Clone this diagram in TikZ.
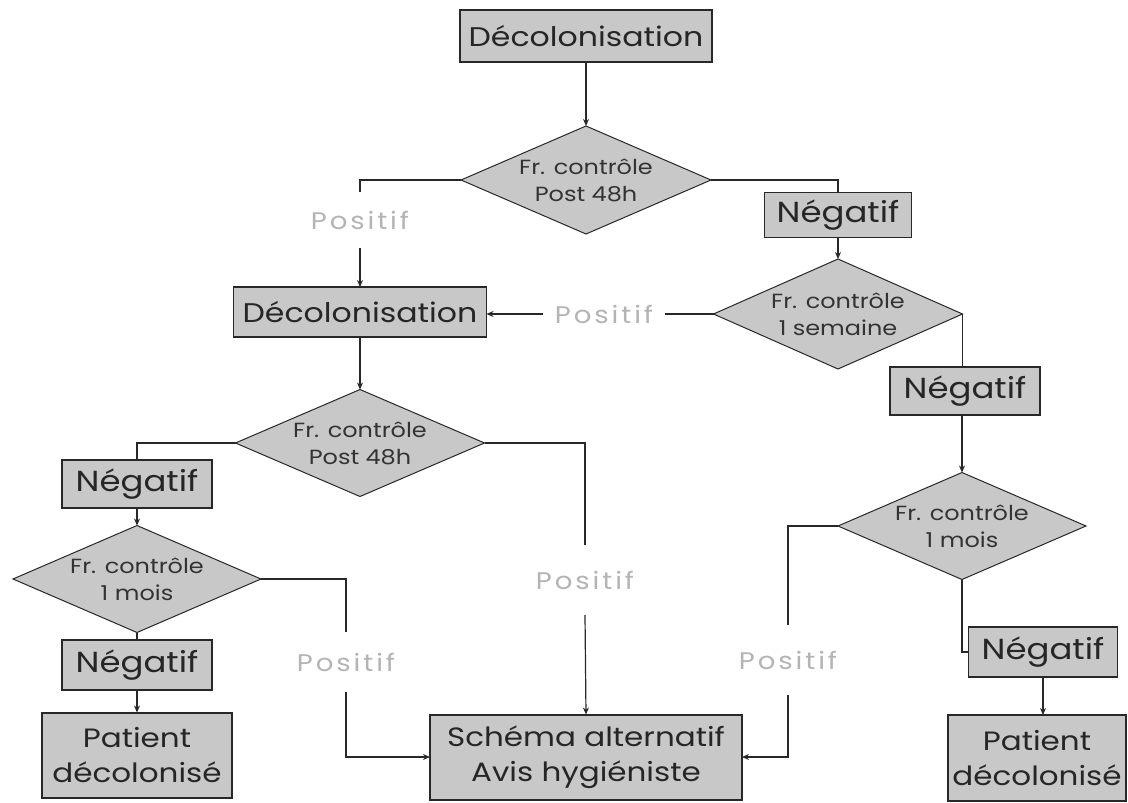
\documentclass[tikz,border=0pt]{standalone}
\usepackage{fontspec}
\setmainfont{Poppins}[FakeStretch=1.17]
\newfontfamily\posfont{Poppins}[FakeStretch=1.15, LetterSpace=12]
\usetikzlibrary{shapes.geometric,arrows.meta}
\definecolor{boxgray}{RGB}{200,200,200}
\definecolor{linegray}{RGB}{40,40,40}
\definecolor{posgray}{RGB}{180,180,180}
\tikzset{
  every node/.style={inner sep=0pt, outer sep=0pt},
  box/.style={draw=linegray, line width=1.3pt, fill=boxgray, align=center, text=black!85, font=\fontsize{27}{32}\selectfont},
  negbox/.style={box, font=\fontsize{29}{32}\selectfont},
  bigbox/.style={box, line width=2pt, font=\fontsize{26.5}{35}\selectfont},
  diashape/.style={diamond, draw=linegray, line width=1pt, fill=boxgray, minimum width=#1pt, minimum height=108pt},
  dtext/.style={align=center, text=black!80, font=\fontsize{20.5}{27}\selectfont},
  poslabel/.style={text=posgray, font=\posfont\fontsize{24}{28}\selectfont},
  conn/.style={draw=linegray, line width=1.2pt},
  arr/.style={conn, -{Stealth[length=7pt,width=6pt]}}
}
\begin{document}
\begin{tikzpicture}[x=1pt,y=-1pt]
\useasboundingbox[fill=white] (0,0) rectangle (1128,803);
% boxes
\node[box, minimum width=252pt, minimum height=52pt] (t1) at (586,36) {Décolonisation};
\node[box, minimum width=253pt, minimum height=50pt] (dec2) at (360,312) {Décolonisation};
\node[negbox, minimum width=147pt, minimum height=45pt] (n1) at (838,215) {Négatif};
\node[negbox, minimum width=150pt, minimum height=48pt] (n2) at (965,391) {Négatif};
\node[negbox, minimum width=150pt, minimum height=48pt] (n3) at (137,484) {Négatif};
\node[negbox, minimum width=150pt, minimum height=50pt] (n5) at (137,665) {Négatif};
\node[negbox, minimum width=149pt, minimum height=50pt] (n4) at (1043,652) {Négatif};
\node[bigbox, minimum width=190pt, minimum height=85pt] (p1) at (137,755) {Patient\\décolonisé};
\node[bigbox, minimum width=178pt, minimum height=86pt] (p2) at (1037,758) {Patient\\décolonisé};
\node[bigbox, minimum width=312pt, minimum height=85pt] (sch) at (586,757) {Schéma alternatif\\Avis hygiéniste};
% diamonds
\node[diashape=250] (d1) at (586,180) {};
\node[dtext] at (d1) {Fr. contrôle\\Post 48h};
\node[diashape=249, minimum height=110pt] (d2) at (838,314) {};
\node[dtext] at (d2) {Fr. contrôle\\1 semaine};
\node[diashape=249, minimum height=107pt] (d3) at (360,443) {};
\node[dtext] at (d3) {Fr. contrôle\\Post 48h};
\node[diashape=248, minimum height=107pt] (d4) at (962,526) {};
\node[dtext] at (d4) {Fr. contrôle\\1 mois};
\node[diashape=248, minimum height=107pt] (d5) at (137,579) {};
\node[dtext] at (d5) {Fr. contrôle\\1 mois};
% Positif labels
\node[poslabel, minimum height=56pt] (pA) at (360,220) {Positif};
\node[poslabel, minimum width=122pt] (pB) at (604,314) {Positif};
\node[poslabel, minimum height=60pt] (pC) at (346,662) {Positif};
\node[poslabel, minimum height=70pt] (pD) at (788,660) {Positif};
\node[poslabel, minimum height=70pt] (pE) at (585,580) {Positif};
% connectors
\draw[arr] (t1.south) -- (d1.north);
\draw[conn] (d1.west) -| (pA.north);
\draw[arr] (pA.south) -- (dec2.north);
\draw[conn] (d1.east) -| (n1.north);
\draw[arr] (n1.south) -- (d2.north);
\draw[conn] (d2.west) -- (pB.east);
\draw[arr] (pB.west) -- (dec2.east |- pB.west);
\draw[conn] (d2.east) -- (d2.east |- n2.north);
\draw[arr] (n2.south -| d4.north) -- (d4.north);
\draw[conn] (d4.west) -| (pD.north);
\draw[arr] (pD.south) |- (sch.east);
\draw[conn] (d4.south) |- (n4.west);
\draw[arr] (n4.south) -- (n4.south |- p2.north);
\draw[arr] (dec2.south) -- (d3.north);
\draw[conn] (d3.west) -| (n3.north);
\draw[arr] (n3.south) -- (d5.north);
\draw[conn] (d5.east) -| (pC.north);
\draw[arr] (pC.south) |- (sch.west);
\draw[conn] (d5.south) -- (n5.north);
\draw[arr] (n5.south) -- (p1.north);
\draw[conn] (d3.east) -| (pE.north);
\draw[arr] (pE.south) -- (sch.north);
\end{tikzpicture}
\end{document}
